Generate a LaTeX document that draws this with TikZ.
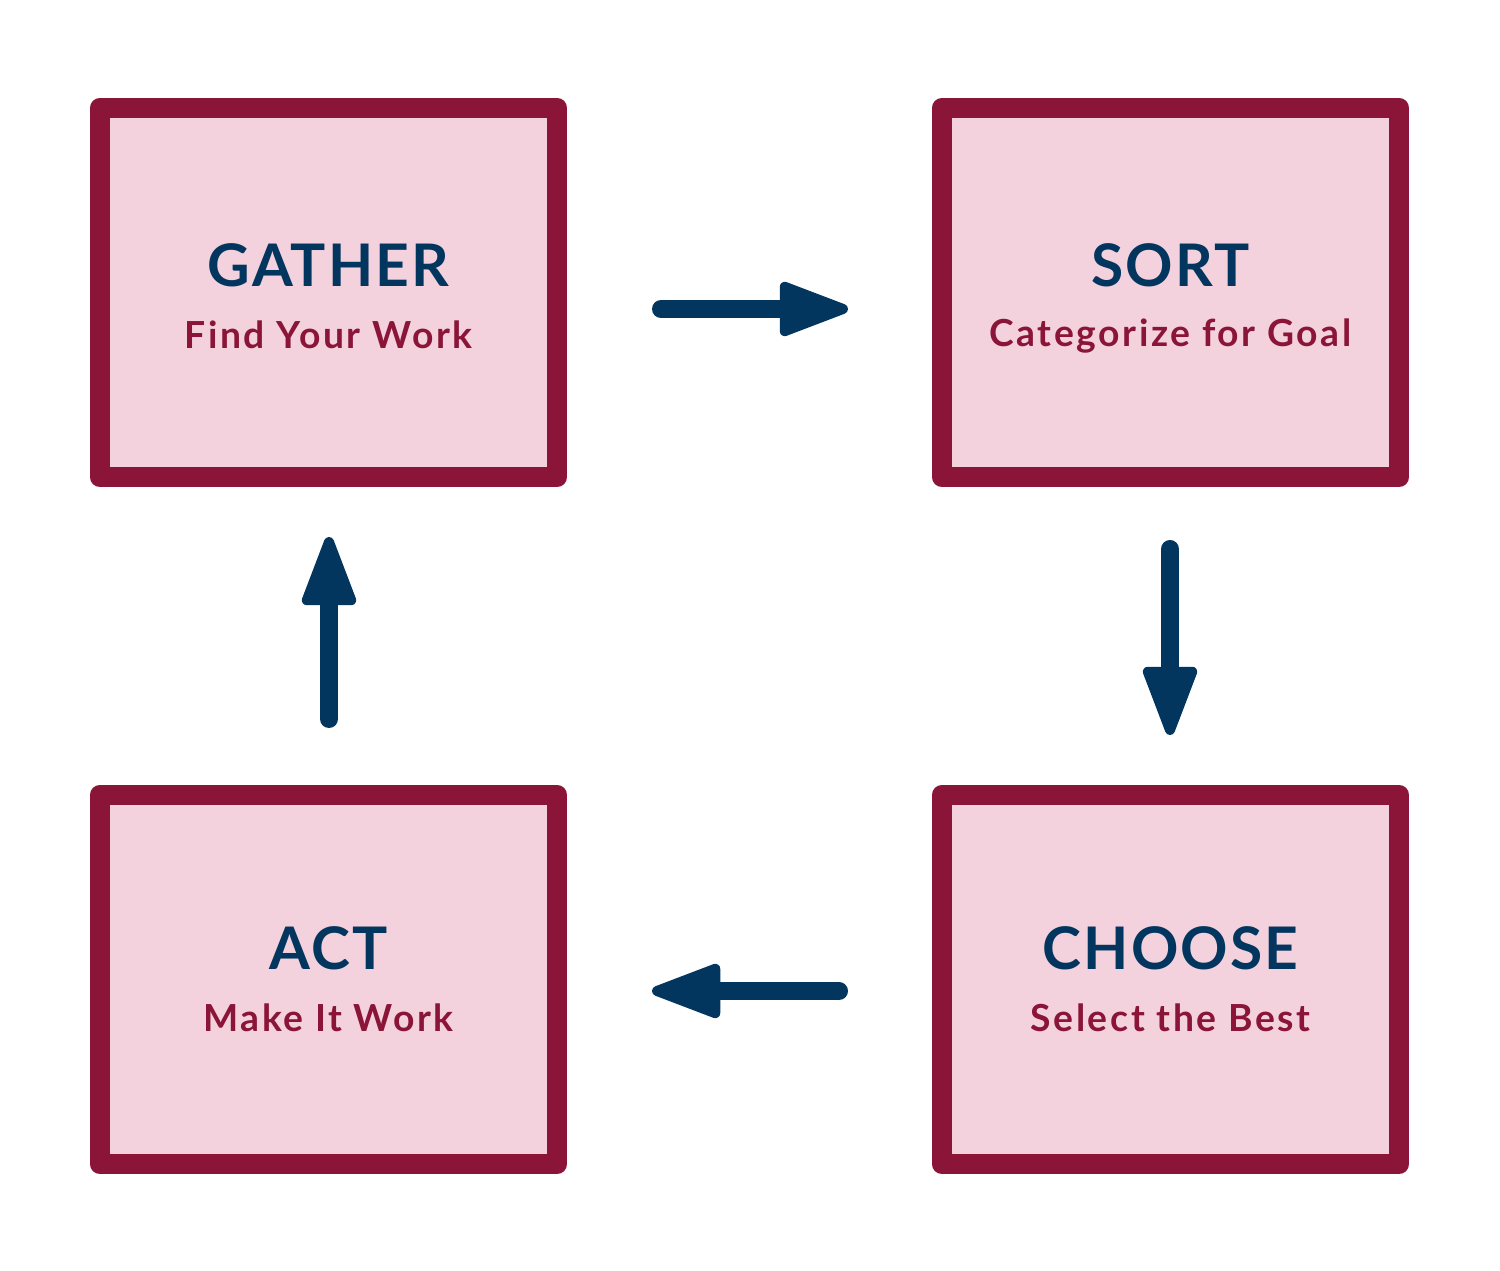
\documentclass[tikz,border=0pt]{standalone}
\usepackage{fontspec}
\setmainfont{Lato}
\newfontfamily\ttlfont[LetterSpace=3.5]{Lato}
\newfontfamily\subfont[LetterSpace=7]{Lato}
\usetikzlibrary{arrows.meta}
\definecolor{maroon}{HTML}{8A1538}
\definecolor{pinkfill}{HTML}{F4D2DD}
\definecolor{navy}{HTML}{03365F}
\tikzset{
  stepbox/.style={draw=maroon, fill=pinkfill, line width=0.2cm, line join=round,
    minimum width=4.57cm, minimum height=3.69cm, inner sep=0pt},
  ttl/.style={anchor=base, text=navy, inner sep=0pt, font=\fontsize{16.7}{20}\ttlfont\bfseries},
  subttl/.style={anchor=base, text=maroon, inner sep=0pt, font=\fontsize{10.6}{12}\subfont\bfseries},
  flow/.style={draw=navy, line width=0.18cm, line cap=round,
    -{Triangle[length=0.78cm, width=0.56cm, line width=0.1cm, round]}}
}
\begin{document}
\begin{tikzpicture}[x=0.01cm, y=-0.01cm]
\path[use as bounding box] (0,0) rectangle (1500,1271);
\node[stepbox] (g) at (328.5,292.5) {};
\node[stepbox] (s) at (1170.5,292.5) {};
\node[stepbox] (c) at (1170.5,979.5) {};
\node[stepbox] (a) at (328.5,979.5) {};
\node[ttl] (gt) at (328.5,287) {GATHER};
\node[subttl] (gs) at (328.5,349) {Find Your Work};
\node[ttl] (st) at (1170.5,287) {SORT};
\node[subttl] (ss) at (1170.5,347) {Categorize for Goal};
\node[ttl] (ct) at (1170.5,970) {CHOOSE};
\node[subttl] (cs) at (1170.5,1032) {Select the Best};
\node[ttl] (at) at (328.5,970) {ACT};
\node[subttl] (as) at (328.5,1032) {Make It Work};
\coordinate (g2s0) at (661,309);
\coordinate (g2s1) at (848,309);
\coordinate (s2c0) at (1170,549);
\coordinate (s2c1) at (1170,735);
\coordinate (c2a0) at (839,991);
\coordinate (c2a1) at (652,991);
\coordinate (a2g0) at (329,719);
\coordinate (a2g1) at (329,537);
\draw[flow] (g2s0) -- (g2s1);
\draw[flow] (s2c0) -- (s2c1);
\draw[flow] (c2a0) -- (c2a1);
\draw[flow] (a2g0) -- (a2g1);
\end{tikzpicture}
\end{document}
